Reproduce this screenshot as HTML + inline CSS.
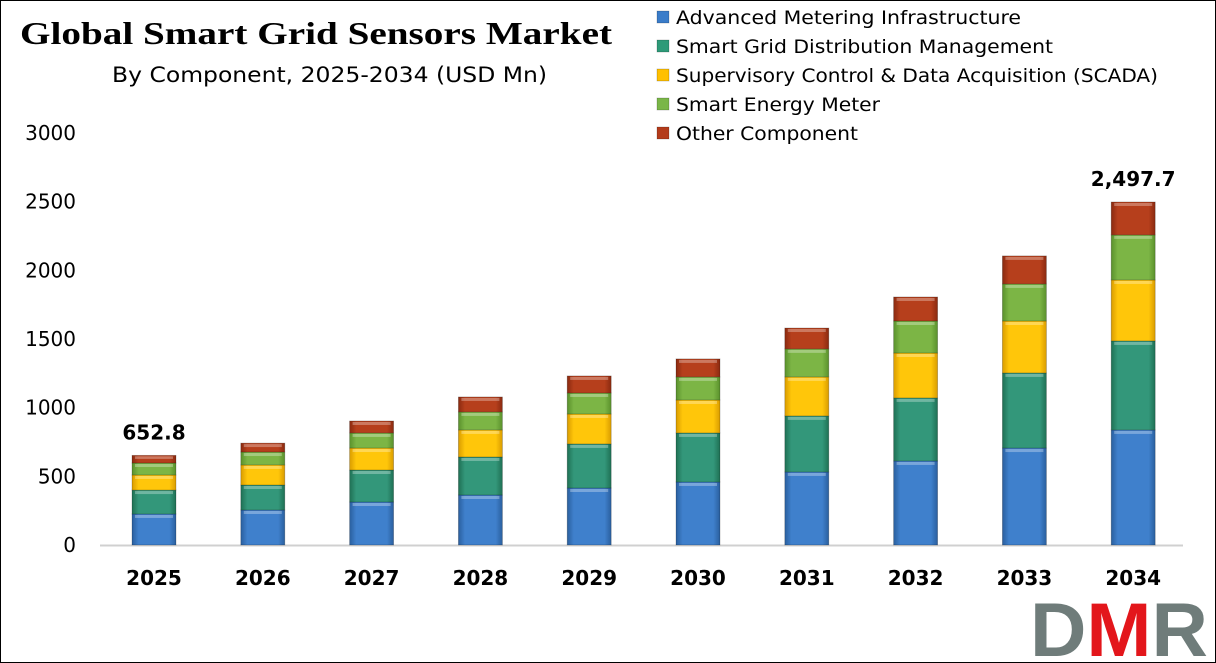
<!DOCTYPE html>
<html><head><meta charset="utf-8"><style>
body{margin:0;background:#fff;}
#wrap{position:relative;width:1216px;height:663px;overflow:hidden;background:#fff;}
svg text{font-family:"DejaVu Sans","Liberation Sans",sans-serif;}
</style></head><body>
<div id="wrap">
<svg id="chart" width="1216" height="663">
<defs>
<linearGradient id="gAMI" x1="0" x2="1"><stop offset="0" stop-color="#2a5f9e"/><stop offset="0.15" stop-color="#3f80cc"/><stop offset="0.85" stop-color="#3f80cc"/><stop offset="1" stop-color="#2a5f9e"/></linearGradient>
<linearGradient id="gSGDM" x1="0" x2="1"><stop offset="0" stop-color="#1f7054"/><stop offset="0.15" stop-color="#33977a"/><stop offset="0.85" stop-color="#33977a"/><stop offset="1" stop-color="#1f7054"/></linearGradient>
<linearGradient id="gSCADA" x1="0" x2="1"><stop offset="0" stop-color="#d99c00"/><stop offset="0.15" stop-color="#ffc60a"/><stop offset="0.85" stop-color="#ffc60a"/><stop offset="1" stop-color="#d99c00"/></linearGradient>
<linearGradient id="gSEM" x1="0" x2="1"><stop offset="0" stop-color="#5a912c"/><stop offset="0.15" stop-color="#7cb545"/><stop offset="0.85" stop-color="#7cb545"/><stop offset="1" stop-color="#5a912c"/></linearGradient>
<linearGradient id="gOTH" x1="0" x2="1"><stop offset="0" stop-color="#8a2a10"/><stop offset="0.15" stop-color="#b63f1c"/><stop offset="0.85" stop-color="#b63f1c"/><stop offset="1" stop-color="#8a2a10"/></linearGradient>
</defs>
<rect x="0.5" y="0.5" width="1215" height="662" fill="none" stroke="#000"/>
<text x="20" y="44" font-size="32" font-weight="bold" textLength="592" lengthAdjust="spacingAndGlyphs" style="font-family:'Liberation Serif',serif">Global Smart Grid Sensors Market</text>
<text x="112" y="82" font-size="21" textLength="435" lengthAdjust="spacingAndGlyphs">By Component, 2025-2034 (USD Mn)</text>
<g id="yaxis"></g>
<g id="bars"></g>
<g id="xaxis"></g>
<g id="legend"></g>
<g>
<text x="1030" y="656" font-size="76" font-weight="bold" fill="#6f7c7a" textLength="178" lengthAdjust="spacingAndGlyphs" style="font-family:'Liberation Sans',sans-serif">D<tspan fill="#e3161b">M</tspan>R</text>
</g>
</svg>
</div>
<script>
const years=["2025","2026","2027","2028","2029","2030","2031","2032","2033","2034"];
const ami=[226,255,313,364,415,459,532,612,706,838];
const sgdm=[174,182,233,277,321,357,408,459,547,648];
const scada=[110,146,160,197,218,240,284,327,378,444];
const sem=[87,94,110,131,153,168,204,233,270,328];
const other=[55.8,65,87,109,124,131,152,175,204,239.7];
const yTicks=[0,500,1000,1500,2000,2500,3000];
const seriesNames=["Advanced Metering Infrastructure","Smart Grid Distribution Management","Supervisory Control & Data Acquisition (SCADA)","Smart Energy Meter","Other Component"];
const legendWidths=[345,377,482,204,182];
const totalLabels=["652.8","","","","","","","","","2,497.7"];

const NS="http://www.w3.org/2000/svg";
const y0=545,yTop=133,vMax=3000;
const y=v=>y0-(v/vMax)*(y0-yTop);
const x=i=>154+i*108.8;
const bw=44;
function mk(t,a,p){const e=document.createElementNS(NS,t);for(const k in a)e.setAttribute(k,a[k]);p.appendChild(e);return e;}
const ya=document.getElementById('yaxis');
yTicks.forEach(t=>{const e=mk('text',{x:76,y:y(t)+7,'text-anchor':'end','font-size':20},ya);e.textContent=t;

});
const bl=mk('line',{x1:100,x2:1183,y1:y0+0.5,y2:y0+0.5,stroke:'#d0d0d0','stroke-width':2},ya);


const series=[ami,sgdm,scada,sem,other];
const fills=['url(#gAMI)','url(#gSGDM)','url(#gSCADA)','url(#gSEM)','url(#gOTH)'];
const legCol=['#3a7cc9','#2e9a78','#ffc000','#7ab648','#b33b1a'];
const segNames=['ami','sgdm','scada','sem','other'];
const bg=document.getElementById('bars');
years.forEach((yr,i)=>{let c=0;
series.forEach((s,k)=>{const a=c,b=c+s[i];c=b;
const r=mk('rect',{x:x(i)-bw/2,y:y(b),width:bw,height:y(a)-y(b),fill:fills[k],stroke:'rgba(0,0,0,0.25)','stroke-width':0.8},bg);


const h=mk('rect',{x:x(i)-bw/2+3,y:y(b)+1,width:bw-6,height:Math.min(3,(y(a)-y(b))/3),fill:'rgba(255,255,255,0.3)'},bg);


});
if(totalLabels[i]){const t=mk('text',{x:x(i),y:y(c)-16,'text-anchor':'middle','font-size':20,'font-weight':'bold'},bg);t.textContent=totalLabels[i];

}
const xl=mk('text',{x:x(i),y:585,'text-anchor':'middle','font-size':20,'font-weight':'bold'},document.getElementById('xaxis'));xl.textContent=yr;


});
const lg=document.getElementById('legend');
seriesNames.forEach((n,k)=>{const cy=17+k*29;
const g=mk('g',{},lg);


mk('rect',{x:657,y:cy-6,width:12,height:12,fill:legCol[k],stroke:'rgba(0,0,0,0.3)','stroke-width':0.6},g);
const t=mk('text',{x:676,y:cy+7,'font-size':19,textLength:legendWidths[k],lengthAdjust:'spacingAndGlyphs'},g);t.textContent=n;});
</script>
</body></html>
